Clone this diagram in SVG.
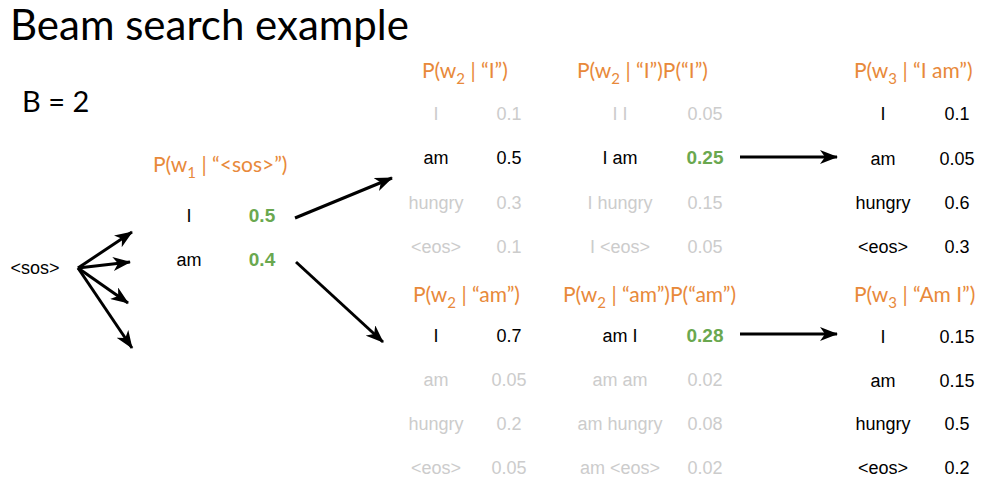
<svg xmlns="http://www.w3.org/2000/svg" width="1000" height="496" viewBox="0 0 1000 496">
  <style>
    .title { font-family: Lato, "Liberation Sans", sans-serif; font-size: 42px; fill: #000; }
    .beam { font-family: Lato, "Liberation Sans", sans-serif; font-size: 29px; fill: #000; }
    .hdr { font-family: Lato, "Liberation Sans", sans-serif; font-size: 21px; fill: #e8893a; }
    .sub { font-size: 15px; }
    .t { font-family: "Liberation Sans", Arial, sans-serif; font-size: 18px; text-anchor: middle; fill: #000; }
    .dim { fill: #cccccc; }
    .best { font-weight: bold; fill: #6aa84f; font-size: 19px; }
    .arrow { stroke: #000; stroke-width: 3; fill: none; marker-end: url(#head); }
  </style>
  <defs>
    <marker id="head" viewBox="0 0 18 14" refX="17" refY="7" markerWidth="18" markerHeight="14" markerUnits="userSpaceOnUse" orient="auto">
      <path d="M0,0 L18,7 L0,14 L5,7 z" fill="#000"/>
    </marker>
  </defs>

  <text class="title" x="10" y="40">Beam search example</text>
  <text class="beam" x="22" y="112">B = 2</text>

  <!-- start token -->
  <g id="start">
    <text class="t" x="35" y="274">&lt;sos&gt;</text>
  </g>

  <!-- step 1: P(w1 | <sos>) -->
  <g id="step1">
    <text class="hdr" x="153" y="172">P(w<tspan class="sub" dy="6">1</tspan><tspan dy="-6"> | “&lt;sos&gt;”)</tspan></text>
    <text class="t" x="189" y="222">I</text>
    <text class="t best" x="262" y="222">0.5</text>
    <text class="t" x="189" y="266">am</text>
    <text class="t best" x="262" y="266">0.4</text>
  </g>

  <!-- step 2, branch "I" -->
  <g id="step2-I">
    <text class="hdr" x="422" y="78">P(w<tspan class="sub" dy="6">2</tspan><tspan dy="-6"> | “I”)</tspan></text>
    <text class="t dim" x="436" y="120">I</text>
    <text class="t dim" x="509" y="120">0.1</text>
    <text class="t" x="436" y="164">am</text>
    <text class="t" x="509" y="164">0.5</text>
    <text class="t dim" x="436" y="209">hungry</text>
    <text class="t dim" x="509" y="209">0.3</text>
    <text class="t dim" x="436" y="253">&lt;eos&gt;</text>
    <text class="t dim" x="509" y="253">0.1</text>
  </g>

  <g id="joint-I">
    <text class="hdr" x="577" y="78">P(w<tspan class="sub" dy="6">2</tspan><tspan dy="-6"> | “I”)P(“I”)</tspan></text>
    <text class="t dim" x="620" y="120">I I</text>
    <text class="t dim" x="705" y="120">0.05</text>
    <text class="t" x="620" y="164">I am</text>
    <text class="t best" x="705" y="164">0.25</text>
    <text class="t dim" x="620" y="209">I hungry</text>
    <text class="t dim" x="705" y="209">0.15</text>
    <text class="t dim" x="620" y="253">I &lt;eos&gt;</text>
    <text class="t dim" x="705" y="253">0.05</text>
  </g>

  <!-- step 2, branch "am" -->
  <g id="step2-am">
    <text class="hdr" x="413" y="302">P(w<tspan class="sub" dy="6">2</tspan><tspan dy="-6"> | “am”)</tspan></text>
    <text class="t" x="436" y="342">I</text>
    <text class="t" x="509" y="342">0.7</text>
    <text class="t dim" x="436" y="386">am</text>
    <text class="t dim" x="509" y="386">0.05</text>
    <text class="t dim" x="436" y="430">hungry</text>
    <text class="t dim" x="509" y="430">0.2</text>
    <text class="t dim" x="436" y="474">&lt;eos&gt;</text>
    <text class="t dim" x="509" y="474">0.05</text>
  </g>

  <g id="joint-am">
    <text class="hdr" x="563" y="302">P(w<tspan class="sub" dy="6">2</tspan><tspan dy="-6"> | “am”)P(“am”)</tspan></text>
    <text class="t" x="620" y="342">am I</text>
    <text class="t best" x="705" y="342">0.28</text>
    <text class="t dim" x="620" y="386">am am</text>
    <text class="t dim" x="705" y="386">0.02</text>
    <text class="t dim" x="620" y="430">am hungry</text>
    <text class="t dim" x="705" y="430">0.08</text>
    <text class="t dim" x="620" y="474">am &lt;eos&gt;</text>
    <text class="t dim" x="705" y="474">0.02</text>
  </g>

  <!-- step 3 -->
  <g id="step3-I-am">
    <text class="hdr" x="854" y="78">P(w<tspan class="sub" dy="6">3</tspan><tspan dy="-6"> | “I am”)</tspan></text>
    <text class="t" x="883" y="120">I</text>
    <text class="t" x="957" y="120">0.1</text>
    <text class="t" x="883" y="165">am</text>
    <text class="t" x="957" y="165">0.05</text>
    <text class="t" x="883" y="209">hungry</text>
    <text class="t" x="957" y="209">0.6</text>
    <text class="t" x="883" y="253">&lt;eos&gt;</text>
    <text class="t" x="957" y="253">0.3</text>
  </g>

  <g id="step3-am-I">
    <text class="hdr" x="854" y="302">P(w<tspan class="sub" dy="6">3</tspan><tspan dy="-6"> | “Am I”)</tspan></text>
    <text class="t" x="883" y="343">I</text>
    <text class="t" x="957" y="343">0.15</text>
    <text class="t" x="883" y="387">am</text>
    <text class="t" x="957" y="387">0.15</text>
    <text class="t" x="883" y="430">hungry</text>
    <text class="t" x="957" y="430">0.5</text>
    <text class="t" x="883" y="474">&lt;eos&gt;</text>
    <text class="t" x="957" y="474">0.2</text>
  </g>

  <!-- connectors -->
  <g id="connectors">
    <line class="arrow" x1="78" y1="268" x2="132" y2="232"/>
    <line class="arrow" x1="78" y1="268" x2="130" y2="262"/>
    <line class="arrow" x1="78" y1="268" x2="128" y2="303"/>
    <line class="arrow" x1="78" y1="268" x2="132" y2="348"/>
    <line class="arrow" x1="295" y1="218" x2="392" y2="178"/>
    <line class="arrow" x1="296" y1="262" x2="383" y2="342"/>
    <line class="arrow" x1="740" y1="157" x2="837" y2="157"/>
    <line class="arrow" x1="740" y1="334" x2="837" y2="334"/>
  </g>
</svg>
